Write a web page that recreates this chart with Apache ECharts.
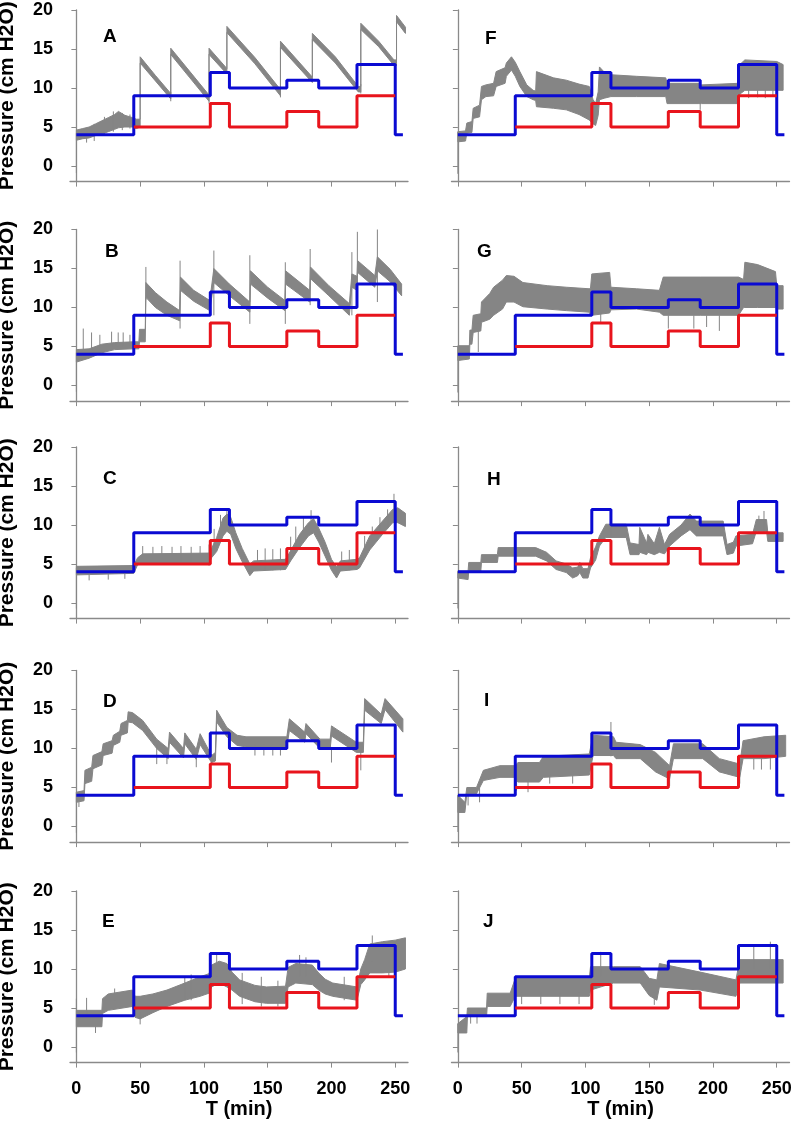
<!DOCTYPE html>
<html><head><meta charset="utf-8">
<script src="https://cdn.jsdelivr.net/npm/echarts@6/dist/echarts.min.js"></script>
<style>html,body{margin:0;padding:0;background:#fff}#c{width:795px;height:1124px}</style>
</head><body><div id="c"></div>
<script>
const xTicks=[0,50,100,150,200,250];
const yTicks=[0,5,10,15,20];
const blueSteps=[[0,4],[45,4],[45,9],[105,9],[105,12],[120,12],[120,10],[165,10],[165,11],[190,11],[190,10],[220,10],[220,13],[250,13],[250,4],[256,4]];
const redSteps=[[45,5],[105,5],[105,8],[120,8],[120,5],[165,5],[165,7],[190,7],[190,5],[220,5],[220,9],[250,9]];
const panelLetters=['A','B','C','D','E','F','G','H','I','J'];

// gray pressure trace envelopes: [t, low, high]
const traceA=[[0,3.3,4.6],[5,3.5,4.8],[10,3.6,5.0],[15,3.9,5.4],[20,4.1,5.8],[25,4.4,6.2],[30,4.7,6.6],[33,4.9,7.0],[38,5.0,6.5],[44,5.0,6.2],[47,4.8,6.0],[50,5.0,6.0],[50,13.2,14.0],[62,10.9,11.6],[74,8.6,9.3],[74,14.3,15.1],[89,11.3,12.1],[104,8.3,9.1],[104,14.3,15.1],[118,11.8,12.5],[118,17.1,17.9],[140,13.1,13.9],[160,9.0,9.8],[160,15.2,16.0],[185,10.7,11.4],[185,16.2,17.0],[203,13.2,14.0],[221,9.5,10.2],[223,9.5,10.2],[223,17.5,18.3],[237,15.3,16.0],[249,12.9,13.6],[251,12.9,13.6],[251,18.5,19.3],[258,17.0,17.8]];
const spikesA=[[0,-0.9,4.2],[8,3.0,4.6],[14,3.2,5.4],[22,4.0,6.3],[29,4.4,7.0],[36,4.6,6.8],[42,4.8,6.6],[74,8.3,9.5],[104,8.0,9.3],[160,8.8,10],[223,9.3,10.5]];
const traceB=[[0,3.0,4.6],[10,3.5,4.7],[20,4.2,5.3],[30,4.6,5.5],[45,4.7,5.6],[49,4.7,5.6],[49.5,5.6,7.2],[54,5.6,7.2],[54.5,11.3,13.2],[62,10.0,11.9],[71,9.0,10.7],[81,8.3,9.6],[81.6,12.2,13.9],[92,10.8,12.2],[104.6,9.6,10.9],[107.8,13.2,15.0],[120,11.5,13.0],[136,9.4,10.7],[136.5,13.0,14.7],[150,11.2,12.6],[163.5,9.6,10.9],[164,13.0,14.7],[183,10.7,12.2],[183.5,13.7,15.2],[198,11.5,12.8],[214,9.0,10.5],[216,12.6,14.3],[220,12.2,14.0],[220.5,14.5,16.0],[234,12.6,14.1],[236,14.7,16.5],[246,13.3,14.9],[255,11.5,13.0]];
const spikesB=[[0,-0.8,4.2],[5.4,4.5,7.3],[11.9,4.5,6.8],[18.4,4.6,6.5],[27.6,5.0,6.9],[32.8,5.0,6.8],[36.7,5.0,6.8],[42,5.0,6.5],[54.5,11.0,15.2],[81.3,7.3,16.0],[107.8,9.0,17.3],[136,7.9,16.7],[163.8,7.9,15.8],[183.3,10.3,17.5],[216,9.0,17.1],[220.3,12.0,19.7],[236,10.7,20.0]];
const traceC=[[0,3.6,4.7],[45,3.8,4.8],[48,4.9,5.8],[52,5.0,6.3],[104,5.0,6.4],[106,5.8,7.0],[110,6.6,8.4],[115,8.6,10.9],[118,9.2,11.4],[121,8.8,11.0],[125,7.0,9.0],[130,5.3,7.0],[136,3.5,5.0],[139,4.1,5.4],[164,4.3,5.6],[168,5.4,6.7],[175,7.1,8.8],[182,8.6,10.3],[186,9.0,10.8],[190,7.8,9.6],[195,6.0,7.8],[200,4.2,5.6],[204,3.2,4.6],[207,4.1,5.4],[220,4.3,5.6],[222,4.5,5.8],[230,6.8,8.6],[240,8.8,10.5],[248,10.3,12.0],[252,10.3,12.2],[258,9.8,11.5]];
const spikesC=[[0,-0.7,4.5],[10,2.9,4.2],[25,3.0,4.2],[38,3.1,4.2],[52,5.0,7.3],[60,5.0,7.2],[67,5.0,7.3],[75,5.0,7.2],[82,5.0,7.3],[90,5.0,7.2],[97,5.0,7.3],[104,4.8,7.5],[108,7.0,9.5],[113,8.5,11.3],[118,10.0,12.0],[142,4.2,6.8],[148,4.2,7.0],[154,4.2,6.9],[160,4.2,7.0],[168,6.0,8.5],[172,7.0,9.8],[178,8.0,11.0],[184,9.0,11.9],[208,4.2,6.6],[214,4.2,6.8],[226,6.0,8.6],[232,7.5,9.8],[238,8.5,11.0],[244,9.5,12.0],[249,10.5,14.0]];
const traceD=[[0,3.1,4.4],[6,3.3,4.6],[6.7,5.5,7.2],[12,5.8,7.6],[13,7.4,9.1],[20,7.9,9.6],[21,9.1,10.6],[28,9.4,11.0],[29,10.4,11.7],[34,10.8,12.2],[35,11.7,13.2],[40,12.0,13.6],[40.6,13.4,14.7],[44,13.3,14.6],[52,12.3,13.6],[63,10.0,11.2],[72,8.7,10.0],[73,10.8,12.1],[84,8.8,10.0],[85,10.6,12.0],[94,8.6,9.9],[97,10.5,11.9],[106,8.2,9.1],[109,8.4,9.5],[110,13.4,14.9],[118,11.5,12.7],[126,10.4,11.7],[133,10.2,11.5],[165,10.2,11.5],[167,12.3,13.8],[179,10.8,12.1],[180,11.9,13.2],[191,10.0,11.2],[199,10.0,11.2],[200,11.6,12.9],[219.5,9.5,10.8],[225,9.5,10.8],[226,14.9,16.4],[239,13.2,14.4],[242,15.0,16.4],[256,12.1,13.8]];
const spikesD=[[0,-0.8,4.4],[2,2.5,3.5],[63,8.0,10.5],[71,8.0,9.5],[94,7.6,9.2],[106,8.0,9.2],[140,9.1,10.5],[147,9.1,10.5],[154,9.1,10.5],[160,9.1,10.5],[200,8.2,10.2],[223,7.2,9.8]];
const traceE=[[0,2.6,4.7],[20,2.6,4.7],[20.5,4.3,6.2],[25,4.7,6.8],[44,5.2,7.3],[46,3.8,6.5],[50,3.6,6.5],[60,4.4,6.8],[71,5.2,7.3],[85,6.0,8.2],[97,6.5,9.0],[104,6.9,9.4],[106,7.7,10.5],[112,8.2,11.0],[118,7.7,10.7],[122,7.3,9.6],[128,6.5,8.6],[140,5.8,7.9],[149,5.6,7.7],[164,5.6,7.8],[166,7.7,10.2],[172,8.2,10.7],[185,8.0,10.5],[190,7.3,9.5],[195,6.8,8.7],[201,6.5,8.2],[220,6.0,7.7],[223,8.0,10.0],[226,8.6,11.2],[230,9.5,13.2],[240,9.5,13.5],[250,9.6,13.7],[258,10.0,14.0]];
const spikesE=[[0,-0.7,6.2],[8,4.0,6.3],[15,1.8,3.0],[30,6.0,7.5],[50,2.9,4.5],[85,6.0,9.0],[90,6.0,9.3],[110,9.0,11.8],[130,5.5,9.5],[145,5.2,9.0],[158,5.2,8.5],[175,9.0,11.8],[180,9.0,11.5],[210,6.0,9.0],[232,11.0,14.3],[245,9.0,13.5]];
const traceF=[[0,3.1,4.4],[6,3.2,4.5],[7,4.2,5.5],[11,4.3,5.7],[12,6.1,7.4],[17,6.3,7.8],[18.5,8.5,10.2],[22,8.9,10.4],[28,9.0,10.6],[30,10.2,12.1],[37,10.6,12.6],[38,11.5,13.2],[42,12.3,14.0],[45,11.5,13.3],[48.6,10.2,12.1],[54,8.9,10.4],[59,8.5,9.7],[61,8.4,9.6],[61.6,7.6,12.1],[75,7.4,11.3],[85,7.2,11.0],[95,6.6,10.5],[103,5.9,10.2],[106,5.4,8.5],[108,5.2,8.0],[110,6.5,9.5],[111,8.5,12.7],[115,8.7,12.0],[120,8.9,11.7],[140,8.9,11.5],[163,8.9,11.3],[164,8.0,10.6],[189,8.0,10.6],[191,8.0,10.4],[220,8.0,10.6],[221,9.2,13.0],[225,9.7,13.6],[250,9.7,13.4],[255,9.7,13.0]];
const spikesF=[[0,-1.0,4.4],[190,7.2,9.0],[228,8.7,10.0],[235,8.8,10.0],[241,8.7,10.0],[247,8.9,10.0]];
const traceG=[[0,3.2,5.1],[9,3.4,5.1],[9.4,5.3,7.1],[11,5.3,7.1],[12,6.8,9.0],[18,7.0,9.2],[18.5,8.1,10.7],[25,8.5,11.8],[28,9.0,12.6],[35,9.8,13.5],[38,10.7,14.1],[44,10.7,14.0],[51,10.1,13.2],[70,9.8,12.8],[85,9.6,12.6],[103,9.4,12.4],[104,9.0,12.5],[105,9.0,14.3],[119,9.3,14.5],[120,9.7,12.6],[140,9.8,12.4],[158,9.4,12.2],[161,9.0,13.9],[190,9.0,13.9],[220,9.0,13.9],[224,10.0,13.6],[225,10.0,15.8],[235,10.0,15.5],[249,10.0,14.6],[250,9.8,12.8],[255,9.8,12.8]];
const spikesG=[[0,-0.9,5.0],[16,4.3,8.0],[112,8.0,9.5],[165,7.3,9.0],[185,7.3,9.0],[195,7.5,9.0],[205,7.0,9.0]];
const traceH=[[0,3.2,4.1],[8,3.0,4.1],[8.5,4.1,5.2],[18,4.1,5.2],[18.5,5.2,6.2],[31,5.2,6.2],[31.6,6.0,7.1],[61,6.0,7.1],[69.5,5.4,6.5],[77,4.3,5.4],[85,3.9,5.0],[90,3.2,4.5],[94,3.5,4.6],[95.6,3.9,5.2],[98,3.2,4.4],[102,3.2,4.4],[104,4.5,5.8],[108,5.5,7.2],[111,7.3,8.6],[116,8.4,10.1],[132,8.4,10.1],[135,6.2,7.7],[142,6.2,7.5],[142.6,6.5,9.7],[148,6.2,7.7],[149,6.5,8.8],[154,6.2,7.6],[158,6.5,9.7],[162,6.3,7.5],[166,7.3,8.8],[175,8.6,10.0],[182,9.4,11.4],[187,8.6,10.5],[208,8.6,10.5],[211,6.2,7.5],[216,6.4,7.8],[218,7.3,8.6],[231,7.6,8.8],[234,9.2,10.7],[242,9.2,10.7],[243,7.9,9.0],[255,7.9,9.0]];
const spikesH=[[0,-0.7,4.0],[120,8.4,10.5],[236,9.0,11.2],[240,9.0,11.8]];
const traceI=[[0,1.8,4.0],[5.5,1.8,3.1],[7,4.2,5.0],[14.6,4.2,5.0],[20,5.9,7.2],[33,6.3,7.8],[45,6.3,7.8],[47,5.7,8.2],[64,5.7,8.2],[67,6.3,9.0],[103,6.6,9.3],[106,9.1,11.7],[122,9.1,11.5],[124,8.7,10.8],[143,8.7,10.5],[155,7.0,9.5],[166,6.1,7.8],[169,8.7,10.6],[192,8.7,10.6],[205,7.0,8.7],[221,6.3,8.0],[223.6,8.7,11.0],[240,8.7,11.5],[257,9.0,11.7]];
const spikesI=[[0,-0.7,4.0],[8,2.7,4.2],[17,3.1,5.0],[46,4.6,6.5],[55,4.4,6.0],[72,5.5,6.7],[90,5.5,7.0],[120,9.0,13.4],[166,5.2,7.0],[221,5.5,7.0],[232,7.3,9.0],[238,7.3,9.0],[245,7.3,9.0],[250,7.8,9.0]];
const traceJ=[[0,1.8,3.0],[7,1.8,3.9],[7.5,3.9,5.0],[22.5,3.9,5.0],[23,5.2,6.9],[41,5.2,6.9],[45,6.5,8.8],[103,6.5,8.8],[104,7.3,10.3],[122,8.2,10.3],[143,8.2,10.3],[150,6.6,8.8],[156,6.0,8.6],[158,7.7,10.7],[190,7.3,9.6],[218,6.5,8.6],[221,8.2,11.2],[255,8.2,11.2]];
const spikesJ=[[0,-0.7,3.0],[10,3.0,4.5],[15,3.0,4.5],[50,5.5,7.0],[65,5.5,7.0],[80,5.5,7.0],[95,5.5,7.0],[112,9.0,12.2],[154,5.4,7.0],[232,10.0,13.0],[245,10.0,13.5]];

const traces=[traceA,traceB,traceC,traceD,traceE,traceF,traceG,traceH,traceI,traceJ];
const spikes=[spikesA,spikesB,spikesC,spikesD,spikesE,spikesF,spikesG,spikesH,spikesI,spikesJ];

// layout
const FONT='"Liberation Sans", Arial, sans-serif';
const rowTops=[10,229.5,447,670.5,891];
const colLeft=[70,451.5];
const gridW=338, gridH=171.6;
const letterPos=[[103,36.5],[105,251.5],[103,479],[103,701.5],[102,922],[485,38.5],[477,251.5],[487,480],[484,700.5],[483,921.5]];
const AXC='#8a8a8a', GRAY='#858585';

const grids=[],xAxes=[],yAxes=[],series=[],graphics=[];
for(let i=0;i<10;i++){
  const col=i<5?0:1,row=i%5,bottom=row===4;
  grids.push({left:colLeft[col],top:rowTops[row],width:gridW,height:gridH,containLabel:false,outerBoundsMode:'none'});
  xAxes.push({type:'value',gridIndex:i,min:-5,max:260,
    axisLine:{show:true,onZero:false,lineStyle:{color:AXC,width:1.3}},
    axisTick:{show:true,customValues:xTicks,length:5,inside:false,lineStyle:{color:AXC,width:1}},
    axisLabel:{show:bottom,customValues:xTicks,fontSize:18,fontWeight:'bold',color:'#000',margin:17,fontFamily:FONT},
    splitLine:{show:false},
    name:bottom?'T (min)':'',nameLocation:'middle',nameGap:37,
    nameTextStyle:{fontSize:20,fontWeight:'bold',color:'#000',fontFamily:FONT}});
  yAxes.push({type:'value',gridIndex:i,min:-2,max:20,
    axisLine:{show:true,lineStyle:{color:AXC,width:1.3}},
    axisTick:{show:true,customValues:yTicks,length:5,lineStyle:{color:AXC,width:1}},
    axisLabel:{show:col===0,customValues:yTicks,fontSize:18,fontWeight:'bold',color:'#000',margin:17,fontFamily:FONT},
    splitLine:{show:false},
    name:col===0?'Pressure (cm H2O)':'',nameLocation:'middle',nameGap:52,
    nameTextStyle:{fontSize:21,fontWeight:'bold',color:'#000',fontFamily:FONT}});
  const tr=traces[i];
  series.push({type:'custom',xAxisIndex:i,yAxisIndex:i,silent:true,animation:false,z:1,
    data:[[0,0]],
    renderItem:(params,api)=>{
      const pts=[];
      for(const d of tr) pts.push(api.coord([d[0],d[2]]));
      for(let k=tr.length-1;k>=0;k--) pts.push(api.coord([tr[k][0],tr[k][1]]));
      return {type:'polygon',shape:{points:pts},style:{fill:GRAY,stroke:GRAY,lineWidth:1}};
    }});
  series.push({type:'custom',xAxisIndex:i,yAxisIndex:i,silent:true,animation:false,z:1,
    data:spikes[i],encode:{x:0,y:[1,2]},
    renderItem:(params,api)=>{
      const p1=api.coord([api.value(0),api.value(1)]),p2=api.coord([api.value(0),api.value(2)]);
      return {type:'line',shape:{x1:p1[0],y1:p1[1],x2:p2[0],y2:p2[1]},style:{stroke:GRAY,lineWidth:1}};
    }});
  series.push({type:'line',xAxisIndex:i,yAxisIndex:i,data:blueSteps,showSymbol:false,silent:true,animation:false,z:3,
    lineStyle:{color:'#0a0ad2',width:3}});
  series.push({type:'line',xAxisIndex:i,yAxisIndex:i,data:redSteps,showSymbol:false,silent:true,animation:false,z:4,
    lineStyle:{color:'#e8141c',width:3}});
  graphics.push({type:'text',x:letterPos[i][0],y:letterPos[i][1],z:10,
    style:{text:panelLetters[i],fill:'#000',font:'bold 19px '+FONT,verticalAlign:'middle',align:'left'}});
}
const chart=echarts.init(document.getElementById('c'),null,{renderer:'canvas'});
chart.setOption({animation:false,backgroundColor:'#fff',grid:grids,xAxis:xAxes,yAxis:yAxes,series:series,graphic:graphics});
</script></body></html>
